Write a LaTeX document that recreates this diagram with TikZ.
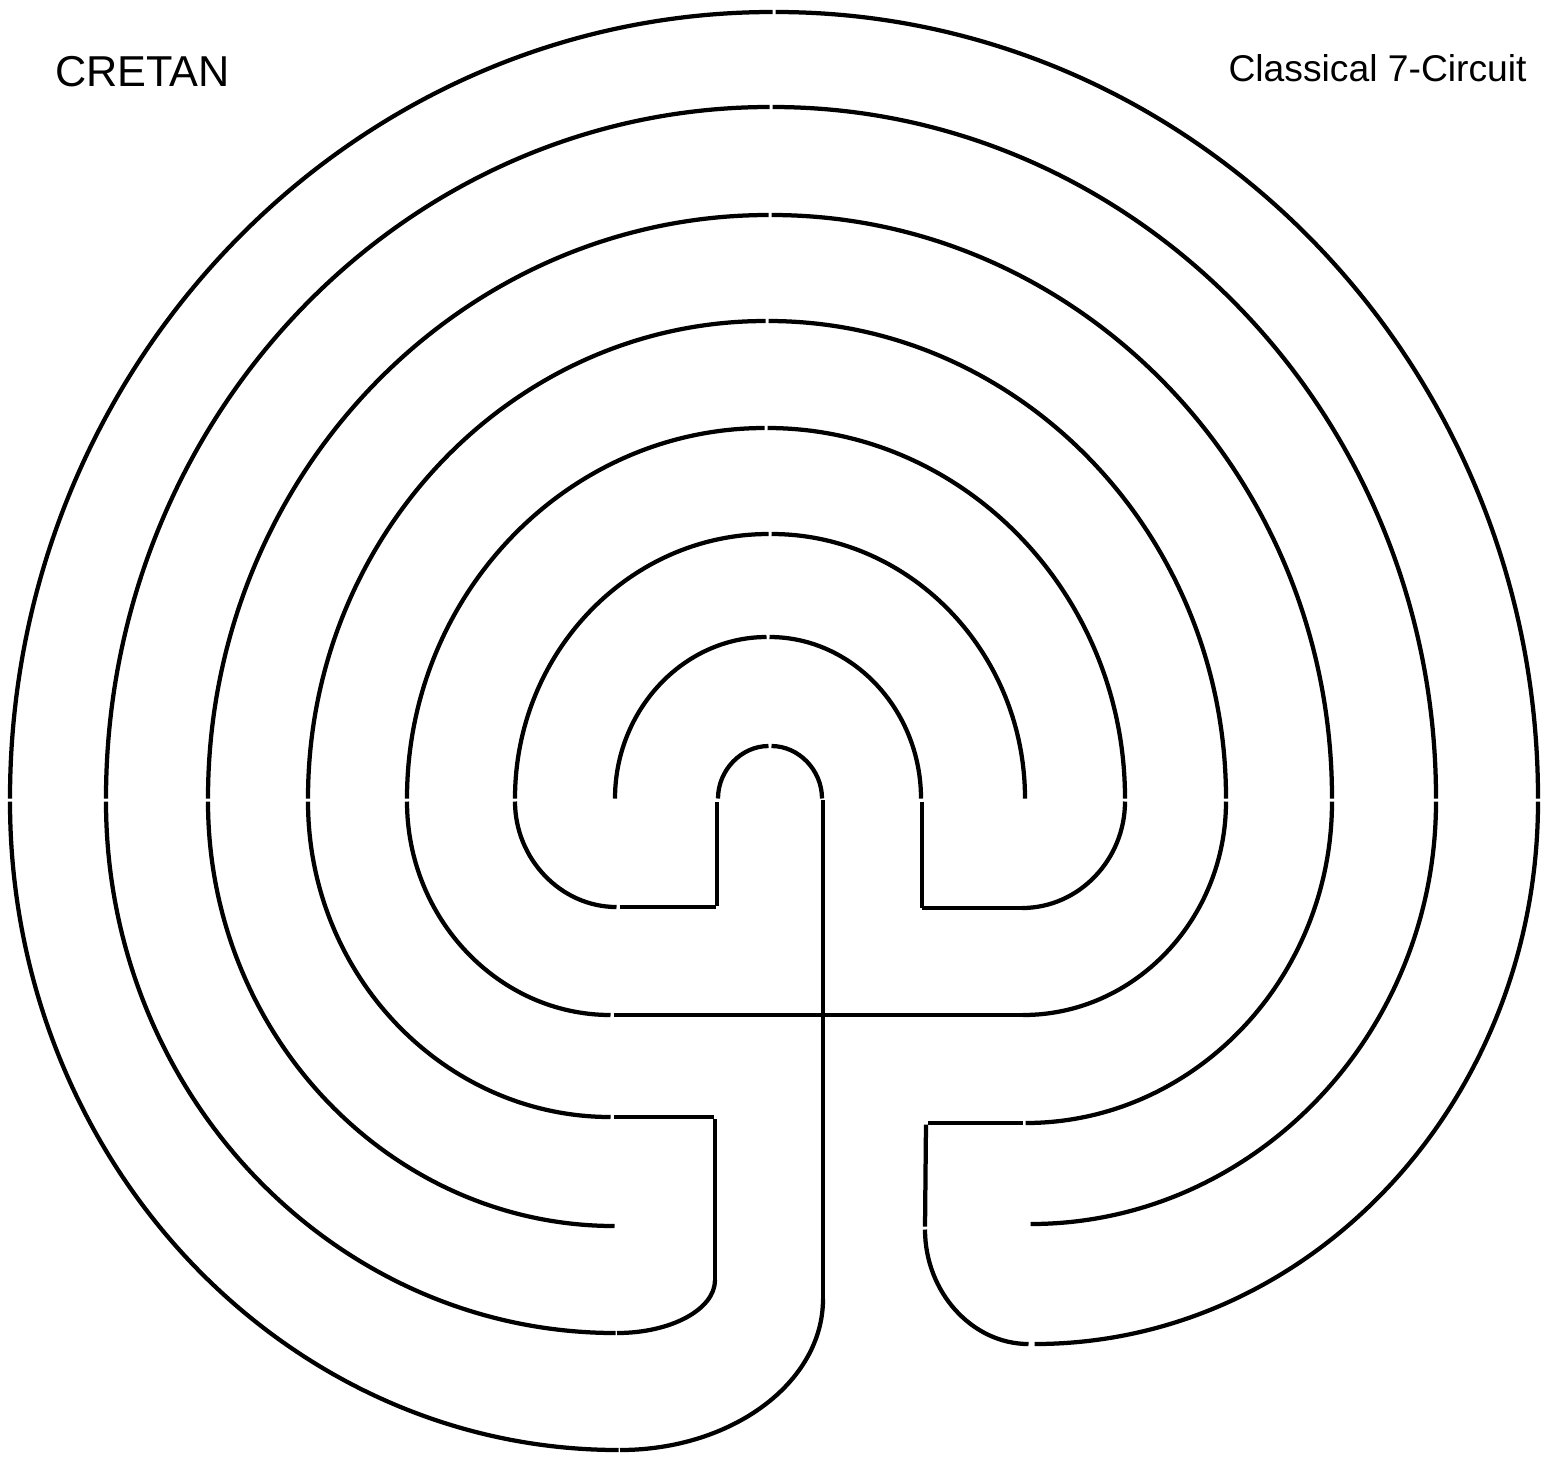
\documentclass[tikz,border=0pt]{standalone}
\usepackage{fontspec}
\setmainfont{Liberation Sans}
\begin{document}
\begin{tikzpicture}[x=0.2mm,y=-0.2mm,
    wall/.style   = {line width=0.85mm,line cap=butt,shorten <=0.3mm,shorten >=0.3mm},
    shut/.style   = {shorten >=0pt},
    bigtag/.style = {inner sep=0pt,font=\fontsize{24.6}{25}\selectfont},
    tag/.style    = {inner sep=0pt,font=\fontsize{21.2}{22}\selectfont}
  ]
  \useasboundingbox (0,0) rectangle (1561,1456);

  \node[bigtag,anchor=base west] (cretan)  at (55,86)   {CRETAN};
  \node[tag,anchor=base east]    (circuit) at (1527,81) {Classical 7-Circuit};

  % upper half, one ring at a time
  \foreach \cx/\rx/\ry in {774/764/788, 771/665/693, 770/562/585, 767/459/479,
                           766/359/372, 770/255/266, 768/153/163, 770/52/54} {
    \draw[wall] (\cx-\rx,800) arc[start angle=180,end angle=270,x radius=\rx,y radius=\ry];
    \draw[wall] (\cx,800-\ry) arc[start angle=270,end angle=360,x radius=\rx,y radius=\ry];
  }

  % lower left quarters
  \foreach \cx/\rx/\ry in {620/610/650, 617/511/533, 616/408/426,
                           612/304/317, 612/205/215, 618/103/107} {
    \draw[wall] (\cx-\rx,800) arc[start angle=180,end angle=90,x radius=\rx,y radius=\ry];
  }

  % lower right quarters
  \foreach \cx/\rx/\ry/\end in {1033/505/544/wall, 1029/407/424/wall, 1024/308/323/wall,
                                1023/203/215/shut, 1022/103/108/shut} {
    \draw[wall,\end] (\cx+\rx,800) arc[start angle=0,end angle=90,x radius=\rx,y radius=\ry];
  }

  % the cross
  \draw[wall,shorten <=0pt,shut] (823,800) -- (823,1299);
  \draw[wall,shut] (612,1015) -- (1023,1015);
  \draw[wall,shorten <=0pt,shut] (823,1299) arc[start angle=0,end angle=90,x radius=203,y radius=151];

  % left turns
  \draw[wall] (618,907) -- (717,907);
  \draw[wall] (717,907) -- (717,800);
  \draw[wall] (612,1117) -- (715,1117);
  \draw[wall,shut] (715,1117) -- (715,1280);
  \draw[wall,shorten <=0pt,shut] (715,1280) arc[start angle=0,end angle=90,x radius=98,y radius=53];

  % right turns
  \draw[wall,shut] (922,800) -- (922,908);
  \draw[wall,shorten <=0pt,shut] (922,908) -- (1022,908);
  \draw[wall] (1024,1123) -- (926,1123);
  \draw[wall] (926,1123) -- (925,1228);
  \draw[wall] (925,1228) arc[start angle=180,end angle=90,x radius=105,y radius=116];

\end{tikzpicture}
\end{document}
